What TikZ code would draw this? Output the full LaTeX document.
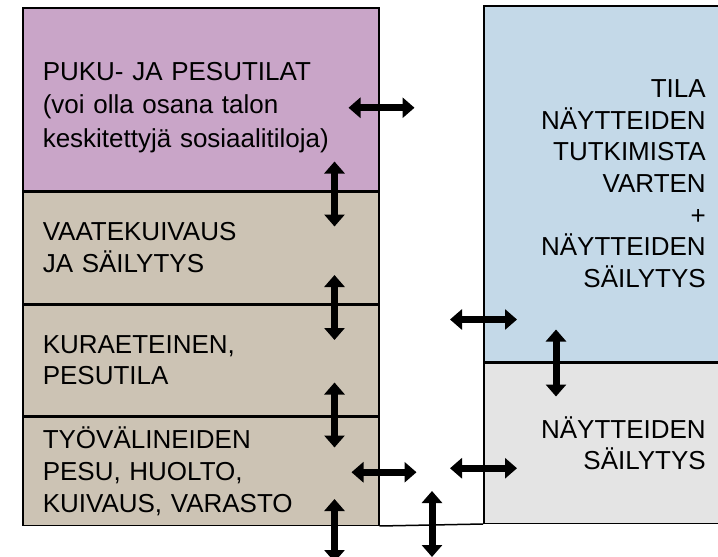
\documentclass[tikz,border=0pt]{standalone}
\usepackage{fontspec}
\setmainfont{Liberation Sans}
\usepackage{tikz}
\usetikzlibrary{arrows.meta,calc}
\definecolor{pukucol}{RGB}{201,165,200}
\definecolor{vaatecol}{RGB}{204,195,180}
\definecolor{tilacol}{RGB}{196,217,232}
\definecolor{naytecol}{RGB}{228,228,228}

\begin{document}
\begin{tikzpicture}[x=1pt,y=-1pt,
  room/.style={draw=black,line width=1.5pt,anchor=north west,inner ysep=0pt,
    font=\fontsize{26}{31.7}\selectfont},
  leftroom/.style={room,align=left,text width=316pt,inner xsep=20pt},
  rightroom/.style={room,align=right,text width=209pt,inner xsep=13pt},
  dbl/.style={line width=7pt,{Triangle[length=12pt,width=20pt]}-{Triangle[length=12pt,width=20pt]}}]
\useasboundingbox (0,0) rectangle (718,557);
% vasen sarake
\node[leftroom,fill=pukucol,minimum height=183pt,font=\fontsize{26}{33.5}\selectfont] (puku) at (22,7)
  {\rule{0pt}{34pt}PUKU- JA PESUTILAT\\(voi olla osana talon\\keskitettyjä sosiaalitiloja)};
\node[leftroom,fill=vaatecol,minimum height=111pt] (vaate) at (puku.south west)
  {VAATEKUIVAUS\\JA SÄILYTYS};
\node[leftroom,fill=vaatecol,minimum height=111pt] (kura) at (vaate.south west)
  {KURAETEINEN,\\PESUTILA};
\node[leftroom,fill=vaatecol,minimum height=108pt] (tyo) at (kura.south west)
  {TYÖVÄLINEIDEN\\PESU, HUOLTO,\\KUIVAUS, VARASTO};
% oikea sarake
\node[rightroom,fill=tilacol,minimum height=356pt] (tila) at (483,5)
  {TILA\\NÄYTTEIDEN\\TUTKIMISTA\\VARTEN\\+\\NÄYTTEIDEN\\SÄILYTYS};
\node[rightroom,fill=naytecol,minimum height=160pt] (nayte) at (tila.south west)
  {NÄYTTEIDEN\\SÄILYTYS};
\draw[line width=1.5pt] (tyo.south east) -- (nayte.south west);
% nuolet
\draw[dbl] ($(puku.east)+(-31,8.5)$) -- ++(66,0);
\draw[dbl] ($(puku.south east)+(-45,-30)$) -- ++(0,65);
\draw[dbl] ($(vaate.south east)+(-45,-29)$) -- ++(0,65);
\draw[dbl] ($(kura.south east)+(-45,-34)$) -- ++(0,65);
\draw[dbl] ($(tyo.south east)+(-45,-27)$) -- ++(0,63);
\draw[dbl] ($(tyo.east)+(-28,1)$) -- ++(65,0);
\draw[dbl] ($(nayte.west)+(-33,25)$) -- ++(67,0);
\draw[dbl] ($(tila.south west)+(-33,-43)$) -- ++(67,0);
\draw[dbl] ($(tila.south west)+(73,-33)$) -- ++(0,67);
\draw[dbl] ($(nayte.south west)+(-51,-33)$) -- ++(0,66);
\end{tikzpicture}
\end{document}
